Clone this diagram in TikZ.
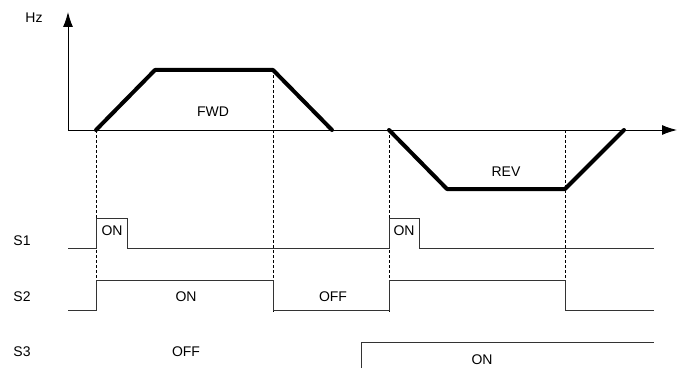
\documentclass[tikz,border=0pt]{standalone}
\usepackage{fontspec}
\setmainfont{Liberation Sans}
\usetikzlibrary{arrows.meta}
\begin{document}
\begin{tikzpicture}[x=1pt,y=-1pt,
    lbl/.style={font=\fontsize{14}{16}\selectfont,inner sep=0pt},
    freq/.style={line width=4pt,line join=round,line cap=round},
    sig/.style={line width=1pt,draw=black!80},
    guide/.style={line width=1pt,dash pattern=on 3pt off 2pt},
    axis/.style={line width=1pt,-{Latex[length=15pt,width=10pt]}}
]
\useasboundingbox (0,0) rectangle (677,369);
% axes
\coordinate (O)  at (68,130);
\coordinate (Y)  at (68,12);
\coordinate (X)  at (677,130);
\draw[axis] (O) -- (Y);
\draw[axis] (O) -- (X);
\node[lbl] (hz) at (34,18) {Hz};

% frequency curve
\coordinate (f1) at (96,130);
\coordinate (f2) at (155,70);
\coordinate (f3) at (273,70);
\coordinate (f4) at (332,130);
\coordinate (r1) at (389,130);
\coordinate (r2) at (447,189);
\coordinate (r3) at (565,189);
\coordinate (r4) at (624,130);
\draw[freq] (f1) -- (f2) -- (f3) -- (f4);
\draw[freq] (r1) -- (r2) -- (r3) -- (r4);
\node[lbl] (fwd) at (213,112) {FWD};
\node[lbl] (rev) at (506,172) {REV};

% guide lines
\draw[guide] (f1) -- (96,311);
\draw[guide] (f3) -- (273,312);
\draw[guide] (r1) -- (389,312);
\draw[guide] (565,130) -- (565,311);

% S1
\node[lbl] (s1) at (22,241) {S1};
\draw[sig] (68,248) -- (96,248) -- (96,218) -- (127,218) -- (127,248)
    -- (389,248) -- (389,218) -- (419,218) -- (419,248) -- (654,248);
\node[lbl] (on1) at (112,231) {ON};
\node[lbl] (on2) at (404,231) {ON};

% S2
\node[lbl] (s2) at (22,297) {S2};
\draw[sig] (68,310) -- (96,310) -- (96,280) -- (273,280) -- (273,310)
    -- (389,310) -- (389,280) -- (565,280) -- (565,310) -- (654,310);
\node[lbl] (on3)  at (186,297) {ON};
\node[lbl] (off1) at (333,297) {OFF};

% S3
\node[lbl] (s3) at (22,352) {S3};
\draw[sig] (361,368) -- (361,342) -- (654,342);
\node[lbl] (off2) at (186,352) {OFF};
\node[lbl] (on4)  at (482,360) {ON};
\end{tikzpicture}
\end{document}
